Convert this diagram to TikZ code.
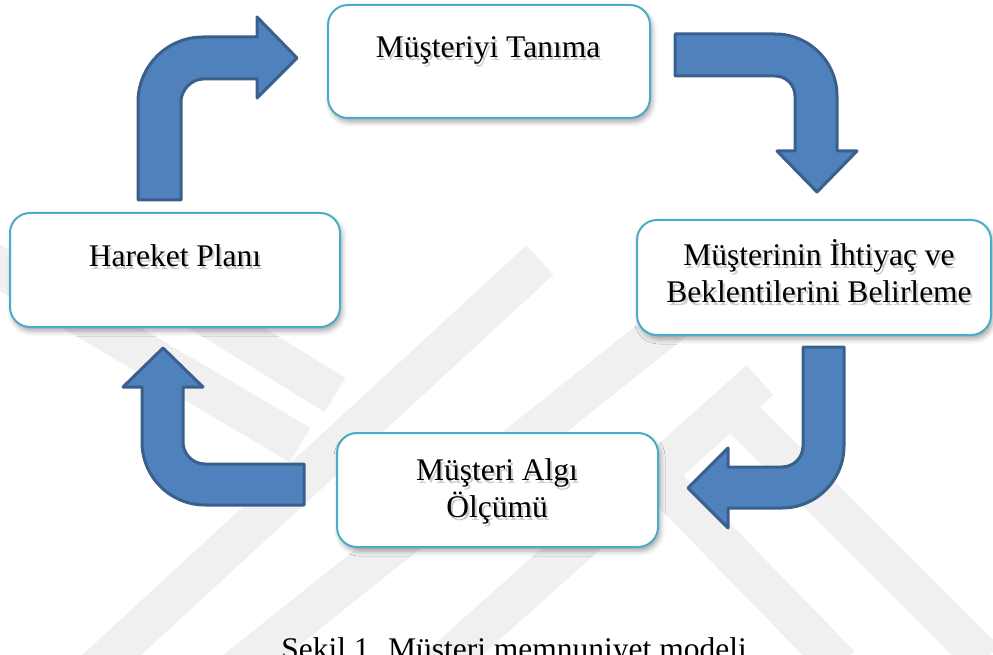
\documentclass[tikz,border=0pt]{standalone}
\usepackage{fontspec}
\setmainfont{Liberation Serif}
\usetikzlibrary{shadows.blur}
\definecolor{arrfill}{HTML}{4F81BD}
\definecolor{arrline}{HTML}{3A5F8C}
\definecolor{boxline}{HTML}{4BACC6}
\definecolor{wm}{HTML}{F0F0F0}
\begin{document}
\begin{tikzpicture}[x=1pt,y=-1pt,
  box/.style={draw=boxline, line width=2pt, rounded corners=20pt, fill=white, inner sep=0pt,
    blur shadow={shadow xshift=2pt, shadow yshift=-4pt, shadow blur radius=5pt, shadow opacity=35}},
  lbl/.style={font=\fontsize{31.5}{37}\selectfont, inner sep=0pt, anchor=base},
  lblsh/.style={lbl, text=black, opacity=0.2},
  bendarrow/.style={fill=arrfill, draw=arrline, line width=3pt, line join=round},
  stripe/.style={draw=wm, line width=40pt, line cap=butt}]
\useasboundingbox (0,0) rectangle (993,655);
\clip (0,0) rectangle (993,655);
% watermark stripes
\draw[stripe] (-10,262) -- (300,445);
\draw[stripe] (120,262) -- (335,395);
\draw[stripe] (90,675) -- (540,260);
\draw[stripe] (230,675) -- (700,300);
\draw[stripe] (430,675) -- (760,380);
\draw[stripe] (745,420) -- (985,660);
\draw[stripe] (660,480) -- (840,665);
% boxes
\node[box, minimum width=322pt, minimum height=113pt] (b1) at (489,61.5) {};
\node[box, minimum width=354pt, minimum height=115pt] (b2) at (814,277.5) {};
\node[box, minimum width=321pt, minimum height=114pt] (b3) at (497.5,490) {};
\node[box, minimum width=330pt, minimum height=114pt] (b4) at (175,270) {};
% labels (soft shadow + text)
\node[lblsh] (s1) at (490,61) {Müşteriyi Tanıma};
\node[lbl] (t1) at (488,58) {Müşteriyi Tanıma};
\node[lblsh] (s2a) at (821,268) {Müşterinin İhtiyaç ve};
\node[lbl] (t2a) at (819,265) {Müşterinin İhtiyaç ve};
\node[lblsh] (s2b) at (821,305) {Beklentilerini Belirleme};
\node[lbl] (t2b) at (819,302) {Beklentilerini Belirleme};
\node[lblsh] (s3a) at (499,483) {Müşteri Algı};
\node[lbl] (t3a) at (497,480) {Müşteri Algı};
\node[lblsh] (s3b) at (499,520) {Ölçümü};
\node[lbl] (t3b) at (497,517) {Ölçümü};
\node[lblsh] (s4) at (177,269) {Hareket Planı};
\node[lbl] (t4) at (175,266) {Hareket Planı};
% bent arrows
\draw[bendarrow] (138,200) -- (138,102) .. controls (138,66.1) and (167.1,37) .. (203,37)
  -- (257,37) -- (257,17) -- (297,58) -- (257,98) -- (257,79) -- (203,79)
  .. controls (190.85,79) and (181,91.15) .. (181,101) -- (181,200) -- cycle;
\draw[bendarrow] (675,34) -- (775,34) .. controls (809.2,34) and (837,61.8) .. (837,96)
  -- (837,151) -- (857,151) -- (817,192) -- (777,151) -- (795,151) -- (795,96)
  .. controls (795,84.95) and (786.05,76) .. (775,76) -- (675,76) -- cycle;
\draw[bendarrow] (803,347) -- (844,347) -- (844,446) .. controls (844,480.2) and (816.2,508) .. (782,508)
  -- (728,508) -- (728,528) -- (688,488) -- (728,448) -- (728,467) -- (782,467)
  .. controls (793.6,467) and (803,457.6) .. (803,446) -- cycle;
\draw[bendarrow] (304,464) -- (205,464) .. controls (192.85,464) and (183,454.15) .. (183,442)
  -- (183,387) -- (203,387) -- (163,348) -- (123,387) -- (142,387) -- (142,442)
  .. controls (142,476.8) and (170.2,505) .. (205,505) -- (304,505) -- cycle;
% caption
\node[lbl] (cap) at (514,659) {Şekil 1. Müşteri memnuniyet modeli};
\end{tikzpicture}
\end{document}
